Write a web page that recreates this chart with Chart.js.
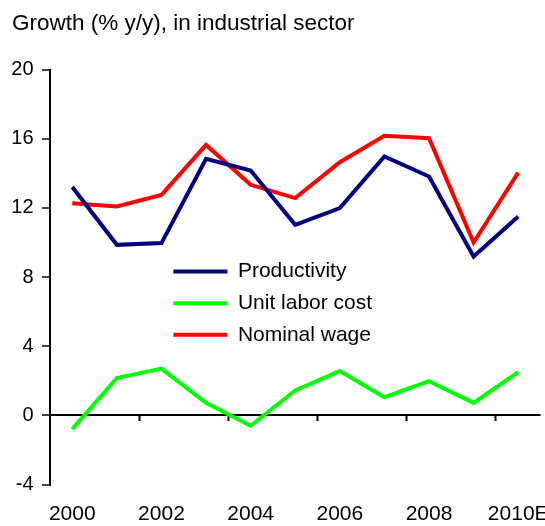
<!DOCTYPE html>
<html lang="en">
  <head>
    <meta charset="UTF-8" />
    <title>Growth in industrial sector</title>
    <style>
      body { margin: 0; background: #fff; }
    </style>
  </head>

  <body>
    <canvas id="growthChart" width="545" height="526"></canvas>

    <script src="https://cdn.jsdelivr.net/npm/chart.js@4/dist/chart.umd.min.js"></script>
    <script>
      // yearly growth, % y/y
      const years = ['2000', '2001', '2002', '2003', '2004', '2005', '2006', '2007', '2008', '2009', '2010E']
      const productivity = [13.2, 9.86, 9.96, 14.83, 14.16, 11.02, 11.98, 14.97, 13.81, 9.18, 11.5]
      const unitLaborCost = [-0.8, 2.16, 2.7, 0.72, -0.6, 1.44, 2.56, 1.05, 1.98, 0.72, 2.5]
      const nominalWage = [12.27, 12.08, 12.75, 15.64, 13.33, 12.56, 14.64, 16.17, 16.03, 9.99, 14.04]

      const yTicks = { min: -4, max: 20, step: 4 }

      Chart.defaults.font.family = '"Liberation Sans", Arial, sans-serif'
      Chart.defaults.color = '#000'

      // legend sits inside the plot, so move it after layout
      const legendInside = {
        id: 'legendInside',
        afterLayout(chart) {
          const lg = chart.legend
          const area = chart.chartArea
          const w = lg.width
          const h = lg.height
          lg.left = area.left + area.width * 0.23
          lg.top = area.top + area.height * 0.436
          lg.right = lg.left + w
          lg.bottom = lg.top + h
        },
      }

      function series(label, data, color) {
        return {
          label: label,
          data: data,
          borderColor: color,
          backgroundColor: color,
          borderWidth: 4,
          pointRadius: 0,
          pointStyle: 'line',
          tension: 0,
          fill: false,
        }
      }

      new Chart('growthChart', {
        type: 'line',
        data: {
          labels: years,
          datasets: [
            series('Productivity', productivity, '#000080'),
            series('Unit labor cost', unitLaborCost, '#00ff00'),
            series('Nominal wage', nominalWage, '#ff0000'),
          ],
        },
        plugins: [legendInside],
        options: {
          responsive: false,
          animation: false,
          layout: { padding: { left: 12, right: 4.5, top: 0, bottom: 0 } },
          plugins: {
            title: {
              display: true,
              text: 'Growth (% y/y), in industrial sector',
              align: 'start',
              font: { size: 22.5, weight: 'normal' },
              color: '#000',
              padding: { top: 10.7, bottom: 31.8 },
            },
            legend: {
              position: 'chartArea',
              align: 'start',
              labels: {
                usePointStyle: true,
                pointStyle: 'line',
                pointStyleWidth: 54,
                padding: 10.6,
                font: { size: 21 },
                color: '#000',
              },
            },
            tooltip: { enabled: false },
          },
          scales: {
            x: {
              offset: true,
              grid: { display: false },
              border: { display: false },
              ticks: {
                autoSkip: false,
                maxRotation: 0,
                padding: 9,
                font: { size: 21 },
                color: '#000',
                callback: function (value, index) {
                  return index % 2 === 0 ? this.getLabelForValue(value) : ''
                },
              },
              afterFit(scale) {
                scale.height = 41.5
                scale.paddingLeft = 0
                scale.paddingRight = 0
              },
            },
            // tick marks hanging under the zero line, every two years
            x2: {
              type: 'category',
              position: { y: 0 },
              offset: true,
              border: { display: false },
              ticks: { display: false },
              grid: {
                offset: true,
                drawOnChartArea: false,
                drawTicks: true,
                tickLength: 6,
                tickWidth: 2,
                tickColor: (c) =>
                  c.index > 0 && c.index < years.length && c.index % 2 === 0 ? '#000' : 'rgba(0,0,0,0)',
              },
            },
            y: {
              min: yTicks.min,
              max: yTicks.max,
              ticks: {
                stepSize: yTicks.step,
                padding: 8.5,
                font: { size: 20 },
                color: '#000',
              },
              border: { display: true, color: '#000', width: 2 },
              grid: {
                drawOnChartArea: true,
                drawTicks: true,
                tickLength: 8,
                tickWidth: 1.5,
                tickColor: '#000',
                lineWidth: 2,
                color: (c) => (c.tick && c.tick.value === 0 ? '#000' : 'rgba(0,0,0,0)'),
              },
              afterFit(scale) {
                scale.width = 38
                scale.paddingTop = 0
                scale.paddingBottom = 0
              },
            },
          },
        },
      })
    </script>
  </body>
</html>
